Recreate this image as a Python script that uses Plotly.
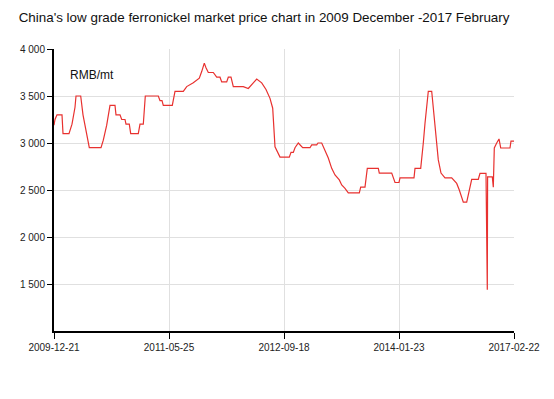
import plotly.graph_objects as go

# Observation positions (sequential index along the x axis) and price (RMB/mt)
obs = [0, 1, 3, 8, 9, 15, 18, 21, 22, 26.7, 29, 32.7, 35.3, 47, 49.3, 52.7, 56, 61, 62, 66,
       67.7, 71, 72, 75.3, 76.7, 84.3, 86, 89.3, 91.3, 104.3, 106, 108, 109.3, 118.3, 121, 129.3,
       132.7, 139.3, 145.3, 147.7, 150.3, 152, 154.3, 159.3, 162.7, 166, 167.7, 172.7, 174.3, 177,
       179.3, 189.3, 194.3, 199.3, 202.7, 207.7, 212, 216, 218.7, 221, 224.3, 226, 235.3, 237,
       239.3, 241, 244.3, 248.7, 256, 257.7, 262.7, 264, 267.7, 271, 274.3, 277.7, 281, 285.3,
       287.7, 291, 294.3, 305.3, 306.7, 311, 312, 313.3, 324.3, 325.3, 337.7, 339.3, 341, 345,
       346, 360, 361, 366.7, 367.7, 369.3, 371, 372.7, 374.3, 377.7, 379.3, 381, 382.7, 384.3,
       387, 391, 397.7, 399.3, 402.7, 405.3, 407.7, 409.3, 412.7, 414.3, 416, 417.7, 424.3, 426,
       432, 433.3, 433.6, 438.3, 439.3, 440.3, 442.7, 445, 446.7, 456, 457, 460]
price = [3190, 3250, 3300, 3300, 3100, 3100, 3200, 3380, 3500, 3500, 3300, 3080, 2950, 2950,
         3030, 3190, 3400, 3400, 3300, 3300, 3250, 3250, 3200, 3200, 3100, 3100, 3200, 3200,
         3500, 3500, 3450, 3450, 3400, 3400, 3550, 3550, 3600, 3640, 3690, 3760, 3850, 3800,
         3750, 3750, 3700, 3700, 3650, 3650, 3700, 3700, 3600, 3600, 3580, 3640, 3680, 3640,
         3570, 3475, 3370, 2960, 2890, 2850, 2850, 2900, 2900, 2950, 3000, 2950, 2950, 2980,
         2980, 3000, 3000, 2926, 2840, 2730, 2660, 2607, 2553, 2518, 2470, 2470, 2530, 2530,
         2624, 2730, 2730, 2680, 2680, 2624, 2580, 2580, 2630, 2630, 2730, 2730, 2820, 3000,
         3210, 3390, 3550, 3550, 3390, 3210, 3000, 2820, 2680, 2630, 2630, 2607, 2570, 2500,
         2410, 2370, 2370, 2447, 2500, 2614, 2614, 2677, 2677, 1440, 2640, 2640, 2530, 2947,
         3000, 3043, 2947, 2947, 3021, 3021]

tick_pos = [0, 115, 230, 345, 460]
tick_dates = ["2009-12-21", "2011-05-25", "2012-09-18", "2014-01-23", "2017-02-22"]
y_ticks = [1500, 2000, 2500, 3000, 3500, 4000]

FONT = "Liberation Sans, Arial, sans-serif"

fig = go.Figure()
fig.add_trace(go.Scatter(x=obs, y=price, mode="lines",
                         line=dict(color="#e8312f", width=1.2),
                         hoverinfo="y"))

fig.update_layout(
    width=546, height=391,
    paper_bgcolor="white", plot_bgcolor="white",
    margin=dict(l=46, r=40, t=41, b=68, autoexpand=False),
    separators=". ",
    showlegend=False,
    font=dict(family=FONT, size=10, color="#222"),
    title=dict(text="China's low grade ferronickel market price chart in 2009 December -2017 February",
               xref="container", yref="container",
               x=0.469, xanchor="center", y=0.976, yanchor="middle",
               font=dict(family=FONT, size=13.4, color="#111")),
    annotations=[dict(text="RMB/mt", xref="paper", yref="paper", x=0.03, y=0.908,
                      xanchor="left", yanchor="middle", showarrow=False,
                      font=dict(family=FONT, size=12, color="#111"))],
)
fig.update_xaxes(range=[0, 460], tickvals=tick_pos, ticktext=tick_dates,
                 showgrid=True, gridcolor="#e0e0e0", gridwidth=1,
                 showline=True, linecolor="black", linewidth=2,
                 ticks="outside", ticklen=6, tickcolor="black", tickwidth=1,
                 zeroline=False, automargin=False,
                 tickfont=dict(family=FONT, size=10, color="#222"))
fig.update_yaxes(range=[1000, 4000], tickvals=y_ticks, tickformat=",d",
                 showgrid=True, gridcolor="#e0e0e0", gridwidth=1,
                 showline=True, linecolor="black", linewidth=2,
                 ticks="outside", ticklen=5, tickcolor="black", tickwidth=1,
                 zeroline=False, automargin=False,
                 tickfont=dict(family=FONT, size=10, color="#222"))

fig.write_html("out.html")
